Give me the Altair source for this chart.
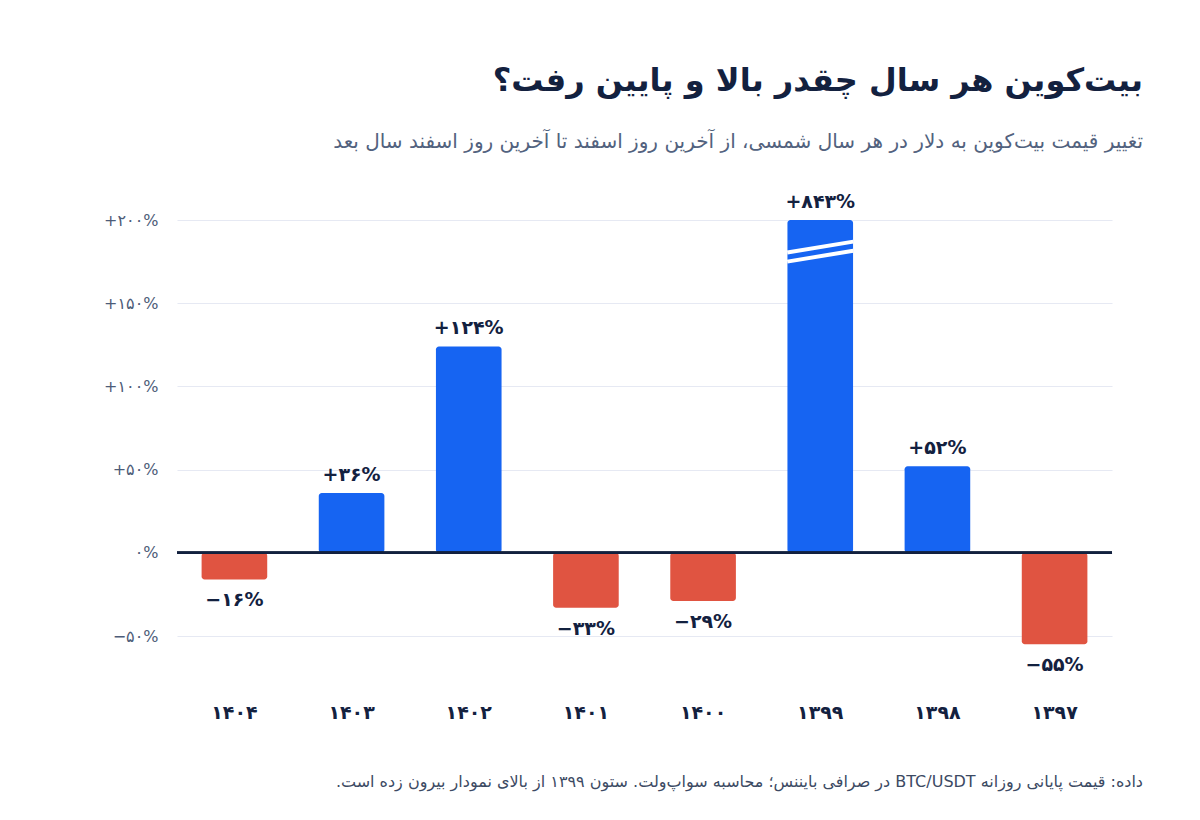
import altair as alt
import pandas as pd

# Solar Hijri years, left to right, and Bitcoin's yearly change in percent
years = ["۱۴۰۴", "۱۴۰۳", "۱۴۰۲", "۱۴۰۱", "۱۴۰۰", "۱۳۹۹", "۱۳۹۸", "۱۳۹۷"]
changes = [-16, 36, 124, -33, -29, 843, 52, -55]
cap = 200  # bars taller than this are cut off at the top of the axis

y_ticks = [-50, 0, 50, 100, 150, 200]

# two white slashes on the cut-off bar (value at its left and right edge)
break_year = "۱۳۹۹"
break_left = [175.0, 180.5]
break_right = [181.5, 187.0]

title = "بیت‌کوین هر سال چقدر بالا و پایین رفت؟"
subtitle = "تغییر قیمت بیت‌کوین به دلار در هر سال شمسی، از آخرین روز اسفند تا آخرین روز اسفند سال بعد"
footer = "داده: قیمت پایانی روزانه BTC/USDT در صرافی بایننس؛ محاسبه سواپ‌ولت. ستون ۱۳۹۹ از بالای نمودار بیرون زده است."

FA_DIGITS = str.maketrans("0123456789", "۰۱۲۳۴۵۶۷۸۹")
RTL_START, RTL_END = "\u202b", "\u202c"  # right-to-left embedding for mixed text


def fa_pct(v, signed=True):
    body = str(abs(v)).translate(FA_DIGITS) + "%"
    if v > 0 and signed:
        return "+" + body
    if v < 0:
        return "−" + body
    return body


df = pd.DataFrame({
    "year": years,
    "change": changes,
    "shown": [min(v, cap) for v in changes],
    "label": [fa_pct(v) for v in changes],
    "sign": ["up" if v > 0 else "down" for v in changes],
})

breaks = pd.DataFrame({"year": [break_year] * 2, "y1": break_left, "y2": break_right})

label_expr = " : ".join(
    f"datum.value == {t} ? '{fa_pct(t)}'" for t in y_ticks
) + " : ''"

FONT = "DejaVu Sans"
NAVY = "#13213F"
BLUE = "#1664F2"
RED = "#E05441"

W, H = 935, 441

x_enc = alt.X(
    "year:N",
    sort=years,
    scale=alt.Scale(paddingInner=0.44, paddingOuter=0.21),
    axis=alt.Axis(
        title=None, domain=False, ticks=False, labelAngle=0,
        labelFont=FONT, labelFontSize=19, labelFontWeight="bold",
        labelColor=NAVY, labelPadding=42,
    ),
)
y_scale = alt.Scale(domain=[-65, cap], nice=False, zero=False)

bars = alt.Chart(df).mark_bar(cornerRadius=3).encode(
    x=x_enc,
    y=alt.Y(
        "shown:Q",
        scale=y_scale,
        axis=alt.Axis(
            title=None, values=y_ticks, labelExpr=label_expr,
            domain=False, ticks=False, grid=True, gridColor="#E6E9F3",
            gridWidth=1.2, labelFont=FONT, labelFontSize=16,
            labelColor="#4D5C78", labelPadding=19,
        ),
    ),
    y2=alt.datum(0),
    color=alt.Color(
        "sign:N",
        scale=alt.Scale(domain=["up", "down"], range=[BLUE, RED]),
        legend=None,
    ),
)

zero = alt.Chart(df).mark_rule(color=NAVY, strokeWidth=2).encode(y=alt.datum(0))

slashes = alt.Chart(breaks).mark_rule(
    color="white", strokeWidth=4, xOffset=-33, x2Offset=33
).encode(
    x=alt.X("year:N", sort=years),
    x2="year:N",
    y=alt.Y("y1:Q", scale=y_scale),
    y2="y2:Q",
)

text_style = dict(font=FONT, fontSize=19, fontWeight="bold", color=NAVY)

up_labels = alt.Chart(df).transform_filter("datum.change > 0").mark_text(
    baseline="bottom", dy=-8, **text_style
).encode(x=alt.X("year:N", sort=years), y=alt.Y("shown:Q", scale=y_scale), text="label:N")

down_labels = alt.Chart(df).transform_filter("datum.change < 0").mark_text(
    baseline="top", dy=12, **text_style
).encode(x=alt.X("year:N", sort=years), y=alt.Y("shown:Q", scale=y_scale), text="label:N")

note = alt.Chart(df).transform_filter("datum.year == '۱۴۰۴'").mark_text(
    align="right", baseline="middle", font=FONT, fontSize=16, color="#3C4A63"
).encode(
    x=alt.value(W + 31), y=alt.value(H + 121),
    text=alt.value(RTL_START + footer + RTL_END),
)

chart = alt.layer(bars, zero, slashes, up_labels, down_labels, note).properties(
    width=W,
    height=H,
    background="white",
    title=alt.TitleParams(
        text=title,
        subtitle=subtitle,
        anchor="end",
        frame="group",
        dx=31,
        offset=40,
        font=FONT,
        fontSize=32,
        fontWeight="bold",
        color=NAVY,
        subtitleFont=FONT,
        subtitleFontSize=20,
        subtitleColor="#52627E",
        subtitlePadding=34,
    ),
    autosize=alt.AutoSizeParams(type="none"),
    padding={"left": 177, "top": 220, "right": 88, "bottom": 159},
).configure_view(strokeWidth=0)

chart.save("out.html", embed_options={"renderer": "svg", "actions": False})
